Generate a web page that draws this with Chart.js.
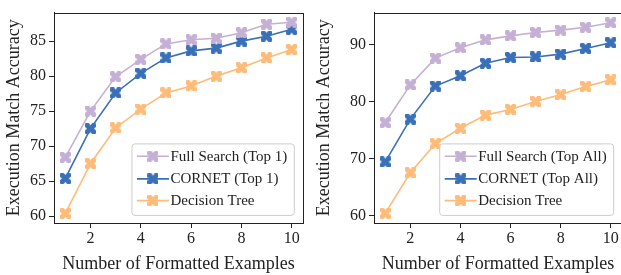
<!DOCTYPE html>
<html>
<head>
<meta charset="utf-8">
<script src="https://cdn.jsdelivr.net/npm/chart.js@4.4.1/dist/chart.umd.min.js"></script>
<style>
  html, body { margin: 0; padding: 0; background: #fff; overflow: hidden; width: 621px; height: 275px; }
  #wrapL { position: absolute; left: 0; top: 0; width: 310px; height: 275px; }
  #wrapR { position: absolute; left: 310px; top: 0; width: 320px; height: 275px; }
</style>
</head>
<body>
<div id="wrapL"><canvas id="cL" width="310" height="275"></canvas></div>
<div id="wrapR"><canvas id="cR" width="320" height="275"></canvas></div>
<script>
// ---- data ----
const examples = [1, 2, 3, 4, 5, 6, 7, 8, 9, 10];
const fullSearchTop1 = [68.4, 75.0, 79.9, 82.4, 84.6, 85.2, 85.4, 86.2, 87.4, 87.7];
const cornetTop1 = [65.4, 72.5, 77.6, 80.4, 82.6, 83.6, 84.0, 85.0, 85.7, 86.7];
const decisionTree = [60.4, 67.5, 72.6, 75.3, 77.6, 78.6, 80.0, 81.2, 82.6, 83.8];
const fullSearchTopAll = [76.3, 82.9, 87.6, 89.4, 90.8, 91.5, 92.1, 92.5, 93.0, 93.8];
const cornetTopAll = [69.4, 76.9, 82.7, 84.5, 86.7, 87.7, 87.8, 88.3, 89.3, 90.3];
const xTickValues = [2, 4, 6, 8, 10];
const yTicksLeft = [60, 65, 70, 75, 80, 85];
const yTicksRight = [60, 70, 80, 90];
const labelsLeft = ['Full Search (Top 1)', 'CORNET (Top 1)', 'Decision Tree'];
const labelsRight = ['Full Search (Top All)', 'CORNET (Top All)', 'Decision Tree'];

const COLORS = ['#c5b0d5', '#3a70b8', '#ffbb78'];
const FONT = "'Liberation Serif', 'DejaVu Serif', serif";
const INK = '#222222';

function makeX(color, size) {
  const c = document.createElement('canvas');
  c.width = size; c.height = size;
  const g = c.getContext('2d');
  g.translate(size / 2, size / 2);
  g.rotate(Math.PI / 4);
  const L = size * 0.62, a = size * 0.21;
  g.beginPath();
  g.moveTo(-a, -L); g.lineTo(a, -L); g.lineTo(a, -a); g.lineTo(L, -a); g.lineTo(L, a);
  g.lineTo(a, a); g.lineTo(a, L); g.lineTo(-a, L); g.lineTo(-a, a); g.lineTo(-L, a);
  g.lineTo(-L, -a); g.lineTo(-a, -a); g.closePath();
  g.fillStyle = color; g.fill();
  g.strokeStyle = color; g.lineWidth = 0.8; g.stroke();
  return c;
}
const markers = COLORS.map(c => makeX(c, 11));

const framePlugin = {
  id: 'frame',
  afterDraw(chart) {
    const { ctx, chartArea: a } = chart;
    ctx.save();
    ctx.strokeStyle = INK; ctx.lineWidth = 1;
    ctx.strokeRect(Math.round(a.left) + 0.5, Math.round(a.top) + 0.5,
      Math.round(a.right - a.left), Math.round(a.bottom - a.top));
    ctx.restore();
  }
};

const legendPlugin = {
  id: 'boxLegend',
  afterDraw(chart, args, opts) {
    const { ctx, chartArea: a } = chart;
    const ds = chart.data.datasets;
    ctx.save();
    ctx.font = '15px ' + FONT;
    const tw = Math.max(...ds.map(d => ctx.measureText(d.label).width));
    const lineLen = 32, padL = 5, gap = 1.5, padR = 7;
    const w = padL + lineLen + gap + tw + padR;
    const h = 71.5;
    const right = a.right - opts.gapRight, bottom = a.bottom - 7.6;
    const x0 = right - w, y0 = bottom - h;
    const r = 3;
    ctx.beginPath();
    ctx.moveTo(x0 + r, y0); ctx.lineTo(x0 + w - r, y0); ctx.quadraticCurveTo(x0 + w, y0, x0 + w, y0 + r);
    ctx.lineTo(x0 + w, y0 + h - r); ctx.quadraticCurveTo(x0 + w, y0 + h, x0 + w - r, y0 + h);
    ctx.lineTo(x0 + r, y0 + h); ctx.quadraticCurveTo(x0, y0 + h, x0, y0 + h - r);
    ctx.lineTo(x0, y0 + r); ctx.quadraticCurveTo(x0, y0, x0 + r, y0); ctx.closePath();
    ctx.fillStyle = 'rgba(255,255,255,0.8)'; ctx.fill();
    ctx.strokeStyle = '#cccccc'; ctx.lineWidth = 1; ctx.stroke();
    const rows = [12.4, 35, 56.7];
    ds.forEach((d, i) => {
      const y = y0 + rows[i];
      ctx.strokeStyle = d.borderColor; ctx.lineWidth = 1.6;
      ctx.beginPath(); ctx.moveTo(x0 + padL, y); ctx.lineTo(x0 + padL + lineLen, y); ctx.stroke();
      const m = d.pointStyle;
      ctx.drawImage(m, x0 + padL + lineLen / 2 - m.width / 2, y - m.height / 2);
      ctx.fillStyle = INK; ctx.textBaseline = 'middle'; ctx.textAlign = 'left';
      ctx.fillText(d.label, x0 + padL + lineLen + gap, y + 0.5);
    });
    ctx.restore();
  }
};

function makeChart(id, series, labels, yMin, yMax, yTicks, yWidth, padRight, gapRight) {
  const datasets = series.map((s, i) => ({
    label: labels[i],
    data: examples.map((x, j) => ({ x: x, y: s[j] })),
    borderColor: COLORS[i],
    backgroundColor: COLORS[i],
    borderWidth: 1.6,
    pointStyle: markers[i],
    pointRadius: 5,
    pointHoverRadius: 5,
    tension: 0,
    order: i
  }));
  return new Chart(document.getElementById(id), {
    type: 'line',
    data: { datasets },
    options: {
      responsive: false,
      animation: false,
      events: [],
      layout: { padding: { top: 5, right: padRight, left: 0, bottom: 0 } },
      plugins: { legend: { display: false }, tooltip: { enabled: false }, boxLegend: { gapRight } },
      scales: {
        x: {
          type: 'linear', min: 0.55, max: 10.45,
          afterBuildTicks: ax => { ax.ticks = xTickValues.map(v => ({ value: v })); },
          afterFit: ax => { ax.height = 52; },
          grid: { display: true, drawOnChartArea: false, drawTicks: true, tickLength: 5, color: INK, tickWidth: 1 },
          border: { display: true, color: INK, width: 1 },
          ticks: { color: INK, font: { family: FONT, size: 16 }, padding: 1, maxRotation: 0 },
          title: { display: true, text: 'Number of Formatted Examples', color: INK, font: { family: FONT, size: 18 }, padding: { top: 0, bottom: 0 } }
        },
        y: {
          type: 'linear', min: yMin, max: yMax,
          afterBuildTicks: ax => { ax.ticks = yTicks.map(v => ({ value: v })); },
          afterFit: ax => { ax.width = yWidth; },
          grid: { display: true, drawOnChartArea: false, drawTicks: true, tickLength: 5, color: INK, tickWidth: 1 },
          border: { display: true, color: INK, width: 1 },
          ticks: { color: INK, font: { family: FONT, size: 16 }, padding: 3 },
          title: { display: true, text: 'Execution Match Accuracy', color: INK, font: { family: FONT, size: 18 }, padding: { top: 3, bottom: 2 } }
        }
      }
    },
    plugins: [framePlugin, legendPlugin]
  });
}

makeChart('cL', [fullSearchTop1, cornetTop1, decisionTree], labelsLeft, 59.03, 89.07, yTicksLeft, 54, 7, 8.7);
makeChart('cR', [fullSearchTopAll, cornetTopAll, decisionTree], labelsRight, 58.68, 95.58, yTicksRight, 64, 8, 8.3);
</script>
</body>
</html>
